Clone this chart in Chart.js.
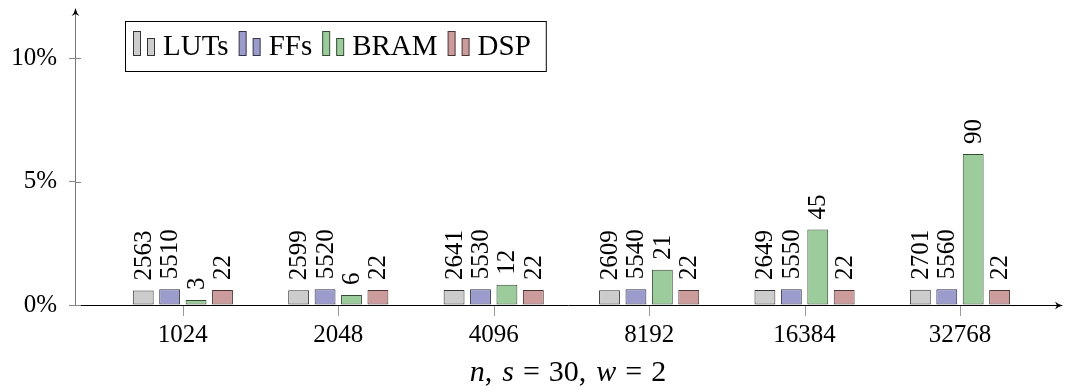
<!DOCTYPE html>
<html><head><meta charset="utf-8">
<script src="https://cdn.jsdelivr.net/npm/chart.js@4/dist/chart.umd.min.js"></script>
<style>html,body{margin:0;padding:0;background:#fff}#wrap{width:1065px;height:391px}</style>
</head><body><div id="wrap"><canvas id="c" width="1065" height="391"></canvas></div>
<script>
const categories = ['1024','2048','4096','8192','16384','32768'];
const seriesNames = ['LUTs','FFs','BRAM','DSP'];
const lutsPct = [0.59,0.60,0.61,0.60,0.61,0.62];
const ffsPct  = [0.64,0.64,0.64,0.64,0.64,0.64];
const bramPct = [0.20,0.41,0.82,1.43,3.06,6.12];
const dspPct  = [0.61,0.61,0.61,0.61,0.61,0.61];
const lutsCount = [2563,2599,2641,2609,2649,2701];
const ffsCount  = [5510,5520,5530,5540,5550,5560];
const bramCount = [3,6,12,21,45,90];
const dspCount  = [22,22,22,22,22,22];
const yTicks = [0,5,10];

const FONT = '"Liberation Serif", "DejaVu Serif", serif';
const fills = ['#cccccc','#9c9ccc','#9ccc9c','#cc9c9c'];
const borders = ['#333333','#33334a','#334a33','#4a3333'];
const pctSets = [lutsPct, ffsPct, bramPct, dspPct];
const countSets = [lutsCount, ffsCount, bramCount, dspCount];

const datasets = seriesNames.map((name, s) => ({
  label: name,
  data: categories.map((c, i) => ({x: i, y: pctSets[s][i]})),
  backgroundColor: fills[s],
  borderColor: borders[s],
  borderWidth: 1,
  borderSkipped: false,
  categoryPercentage: 0.68,
  barPercentage: 0.79,
  counts: countSets[s]
}));

const decor = {
  id: 'decor',
  afterDatasetsDraw(chart) {
    const ctx = chart.ctx;
    ctx.save();
    ctx.fillStyle = '#000';
    ctx.font = '25px ' + FONT;
    chart.data.datasets.forEach((ds, di) => {
      const meta = chart.getDatasetMeta(di);
      meta.data.forEach((el, i) => {
        ctx.save();
        ctx.translate(el.x, el.y - 10);
        ctx.rotate(-Math.PI / 2);
        ctx.textAlign = 'left';
        ctx.textBaseline = 'middle';
        ctx.fillText(String(ds.counts[i]), 0, 1);
        ctx.restore();
      });
    });
    ctx.restore();
  },
  afterDraw(chart) {
    const ctx = chart.ctx;
    const a = chart.chartArea;
    const ys = chart.scales.y;
    const xs = chart.scales.x;
    ctx.save();
    // inner y tick halves
    ctx.strokeStyle = '#888';
    ctx.lineWidth = 1;
    yTicks.forEach(v => {
      const py = Math.round(ys.getPixelForValue(v)) + 0.5;
      ctx.beginPath(); ctx.moveTo(a.left, py); ctx.lineTo(a.left + 6, py); ctx.stroke();
    });
    // x category tick marks (below axis)
    ctx.strokeStyle = '#999';
    categories.forEach((c, i) => {
      const px = Math.round(xs.getPixelForValue(i)) + 0.5;
      ctx.beginPath(); ctx.moveTo(px, a.bottom + 1); ctx.lineTo(px, a.bottom + 11); ctx.stroke();
    });
    // arrow heads
    ctx.fillStyle = '#000';
    const lx = a.left + 0.5;
    ctx.beginPath();
    ctx.moveTo(lx, a.top - 2);
    ctx.quadraticCurveTo(lx - 1, a.top + 3, lx - 4, a.top + 6);
    ctx.lineTo(lx, a.top + 4);
    ctx.lineTo(lx + 4, a.top + 6);
    ctx.quadraticCurveTo(lx + 1, a.top + 3, lx, a.top - 2);
    ctx.fill();
    const by = a.bottom + 0.5;
    ctx.beginPath();
    ctx.moveTo(a.right + 2, by);
    ctx.quadraticCurveTo(a.right - 3, by - 1, a.right - 6, by - 4);
    ctx.lineTo(a.right - 4, by);
    ctx.lineTo(a.right - 6, by + 4);
    ctx.quadraticCurveTo(a.right - 3, by + 1, a.right + 2, by);
    ctx.fill();

    // legend
    ctx.font = '29px ' + FONT;
    const boxL = a.left + 50, boxT = 21, boxH = 50;
    let x = boxL + 8;
    const base = boxT + 34;
    const items = [];
    seriesNames.forEach((n, s) => {
      items.push({s, x});
      x += 30 + ctx.measureText(n).width + 10;
    });
    const boxR = x + 5;
    ctx.fillStyle = '#fff';
    ctx.fillRect(boxL, boxT, boxR - boxL, boxH);
    ctx.strokeStyle = '#000';
    ctx.lineWidth = 1;
    ctx.strokeRect(boxL + 0.5, boxT + 0.5, boxR - boxL, boxH);
    items.forEach(({s, x}) => {
      ctx.fillStyle = fills[s];
      ctx.strokeStyle = borders[s];
      ctx.fillRect(x + 0.5, base - 24 + 0.5, 7, 24);
      ctx.strokeRect(x + 0.5, base - 24 + 0.5, 7, 24);
      ctx.fillRect(x + 14.5, base - 17 + 0.5, 7, 17);
      ctx.strokeRect(x + 14.5, base - 17 + 0.5, 7, 17);
      ctx.fillStyle = '#000';
      ctx.textAlign = 'left';
      ctx.textBaseline = 'alphabetic';
      ctx.fillText(seriesNames[s], x + 30, base);
    });

    // axis title: n, s = 30, w = 2
    const parts = [['n', true, 0], [',', false, 10], ['s', true, 9], ['=', false, 9], ['30', false, 0], [',', false, 10],
                   ['w', true, 9], ['=', false, 9], ['2', false, 0]];
    const fnt = (it) => (it ? 'italic ' : '') + '30px ' + FONT;
    let total = 0;
    parts.forEach(([t, it, g]) => { ctx.font = fnt(it); total += ctx.measureText(t).width + g; });
    let tx = (a.left + a.right) / 2 - total / 2;
    ctx.fillStyle = '#000';
    ctx.textBaseline = 'alphabetic';
    ctx.textAlign = 'left';
    parts.forEach(([t, it, g]) => { ctx.font = fnt(it); ctx.fillText(t, tx, 381); tx += ctx.measureText(t).width + g; });
    ctx.restore();
  }
};

new Chart(document.getElementById('c'), {
  type: 'bar',
  data: { datasets },
  options: {
    responsive: false,
    devicePixelRatio: 1,
    animation: false,
    layout: { padding: { top: 10, right: 4, left: 0, bottom: 0 } },
    plugins: { legend: { display: false }, tooltip: { enabled: false } },
    scales: {
      x: {
        type: 'linear',
        min: -0.694, max: 5.65,
        offset: false,
        afterBuildTicks(scale) { scale.ticks = categories.map((c, i) => ({ value: i })); },
        afterFit(scale) { scale.height = 86; scale.paddingLeft = 0; scale.paddingRight = 0; },
        ticks: {
          autoSkip: false, maxRotation: 0, padding: 15,
          color: '#000', font: { family: FONT, size: 25 },
          callback: (v) => categories[v] !== undefined ? categories[v] : ''
        },
        grid: { display: false, drawTicks: false, tickLength: 0 },
        border: { display: true, color: '#000', width: 1 }
      },
      y: {
        min: 0, max: 11.95,
        afterBuildTicks(scale) { scale.ticks = yTicks.map(v => ({ value: v })); },
        afterFit(scale) { scale.width = 75; scale.paddingTop = 0; scale.paddingBottom = 0; },
        ticks: {
          padding: 12, color: '#000', font: { family: FONT, size: 25 },
          callback: (v) => v + '%'
        },
        grid: { display: true, drawOnChartArea: false, drawTicks: true, tickLength: 6, color: '#888' },
        border: { display: true, color: '#777', width: 1 }
      }
    }
  },
  plugins: [decor]
});
</script></body></html>
